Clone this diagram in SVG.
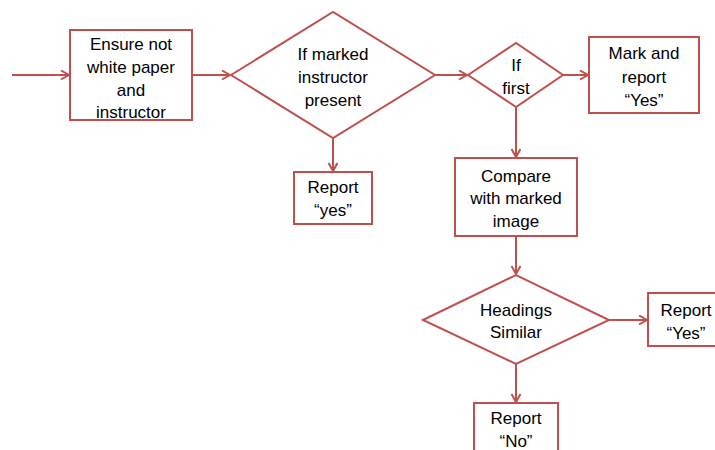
<svg xmlns="http://www.w3.org/2000/svg" width="715" height="450" viewBox="0 0 715 450">
<style>
.s{fill:#fff;stroke:#c0504d;stroke-width:2}
.c{fill:none;stroke:#c0504d;stroke-width:2}
text{font-family:"Liberation Sans",Arial,sans-serif;font-size:17px;fill:#000;text-anchor:middle}
</style>
<defs>
<marker id="a" markerWidth="12" markerHeight="12" refX="9" refY="5" orient="auto" markerUnits="userSpaceOnUse">
<path d="M1,0.5 L9,5 L1,9.5" fill="none" stroke="#c0504d" stroke-width="2"/>
</marker>
</defs>
<rect width="715" height="450" fill="#fff"/>
<g id="connectors">
<line class="c" x1="12" y1="75" x2="69" y2="75" marker-end="url(#a)"/>
<line class="c" x1="192" y1="75" x2="230" y2="75" marker-end="url(#a)"/>
<line class="c" x1="333" y1="138" x2="333" y2="171" marker-end="url(#a)"/>
<line class="c" x1="435" y1="75" x2="467" y2="75" marker-end="url(#a)"/>
<line class="c" x1="563" y1="75" x2="588" y2="75" marker-end="url(#a)"/>
<line class="c" x1="516" y1="107" x2="516" y2="157" marker-end="url(#a)"/>
<line class="c" x1="516" y1="236" x2="516" y2="274" marker-end="url(#a)"/>
<line class="c" x1="609" y1="320" x2="647" y2="320" marker-end="url(#a)"/>
<line class="c" x1="516" y1="364" x2="516" y2="402" marker-end="url(#a)"/>
</g>
<g id="n1">
<rect class="s" x="70" y="30" width="122" height="90"/>
<text x="131" y="50">Ensure not</text>
<text x="131" y="73">white paper</text>
<text x="131" y="96">and</text>
<text x="131" y="118">instructor</text>
</g>
<g id="n2">
<polygon class="s" points="231,75 333,12 435,75 333,138"/>
<text x="333" y="60">If marked</text>
<text x="333" y="83">instructor</text>
<text x="333" y="106">present</text>
</g>
<g id="n3">
<rect class="s" x="294" y="172" width="78" height="52"/>
<text x="333" y="193">Report</text>
<text x="333" y="216">“yes”</text>
</g>
<g id="n4">
<polygon class="s" points="468,75 516,43 563,75 516,107"/>
<text x="516" y="71">If</text>
<text x="516" y="94">first</text>
</g>
<g id="n5">
<rect class="s" x="589" y="37" width="110" height="76"/>
<text x="644" y="59">Mark and</text>
<text x="644" y="83">report</text>
<text x="644" y="106">“Yes”</text>
</g>
<g id="n6">
<rect class="s" x="455" y="158" width="122" height="78"/>
<text x="516" y="182">Compare</text>
<text x="516" y="204">with marked</text>
<text x="516" y="227">image</text>
</g>
<g id="n7">
<polygon class="s" points="423,320 516,275 609,320 516,364"/>
<text x="516" y="316">Headings</text>
<text x="516" y="338">Similar</text>
</g>
<g id="n8">
<rect class="s" x="648" y="293" width="80" height="53"/>
<text x="686" y="316">Report</text>
<text x="686" y="339">“Yes”</text>
</g>
<g id="n9">
<rect class="s" x="474" y="403" width="84" height="60"/>
<text x="516" y="424">Report</text>
<text x="516" y="447">“No”</text>
</g>
</svg>
